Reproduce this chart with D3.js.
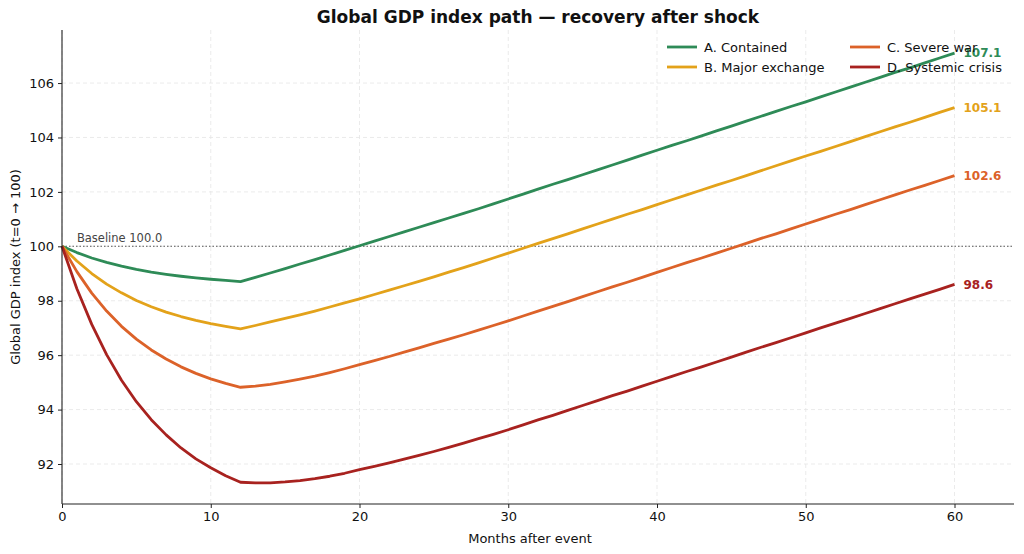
<!DOCTYPE html>
<html><head><meta charset="utf-8">
<script src="https://cdn.jsdelivr.net/npm/d3@7"></script>
<style>
body{margin:0;background:#fff;}
svg{display:block;font-family:"DejaVu Sans",sans-serif;}
</style></head>
<body><svg id="c" width="1024" height="554"></svg>
<script>
const months = d3.range(0, 61);
const seriesNames = ["A. Contained", "B. Major exchange", "C. Severe war", "D. Systemic crisis"];
const seriesColors = ["#2e8b57", "#e3a21a", "#dc6229", "#a8221f"];
const contained = [100,99.77,99.57,99.41,99.27,99.15,99.05,98.97,98.90,98.84,98.79,98.75,98.70,
 98.86,99.02,99.18,99.35,99.51,99.68,99.85,100.02,100.19,100.36,100.53,100.70,100.87,101.04,101.21,101.38,101.56,101.74,
 101.92,102.10,102.28,102.45,102.63,102.81,102.99,103.17,103.35,103.53,103.71,103.88,104.06,104.24,104.42,104.60,104.78,104.96,105.14,105.31,
 105.49,105.67,105.85,106.03,106.21,106.39,106.56,106.74,106.92,107.10];
const majorExchange = [100,99.46,99.00,98.61,98.29,98.01,97.78,97.58,97.42,97.28,97.16,97.06,96.97,
 97.09,97.22,97.35,97.48,97.62,97.77,97.92,98.07,98.23,98.39,98.55,98.71,98.88,99.05,99.22,99.39,99.57,99.75,
 99.93,100.11,100.28,100.46,100.64,100.82,101.00,101.18,101.35,101.53,101.71,101.89,102.07,102.25,102.42,102.60,102.78,102.96,103.14,103.32,
 103.49,103.67,103.85,104.03,104.21,104.39,104.56,104.74,104.92,105.10];
const severeWar = [100,99.07,98.28,97.62,97.06,96.59,96.19,95.86,95.57,95.33,95.13,94.96,94.82,
 94.86,94.93,95.02,95.12,95.23,95.36,95.50,95.65,95.80,95.95,96.11,96.27,96.43,96.59,96.75,96.92,97.09,97.26,
 97.44,97.62,97.79,97.97,98.15,98.33,98.51,98.68,98.86,99.04,99.22,99.40,99.57,99.75,99.93,100.11,100.29,100.46,100.64,100.82,
 101.00,101.18,101.35,101.53,101.71,101.89,102.07,102.24,102.42,102.60];
const systemicCrisis = [100,98.44,97.13,96.02,95.08,94.29,93.63,93.07,92.59,92.19,91.86,91.57,91.33,
 91.31,91.31,91.34,91.39,91.46,91.55,91.66,91.79,91.91,92.04,92.18,92.32,92.46,92.61,92.77,92.93,93.09,93.26,
 93.44,93.62,93.79,93.97,94.15,94.33,94.51,94.68,94.86,95.04,95.22,95.40,95.57,95.75,95.93,96.11,96.29,96.46,96.64,96.82,
 97.00,97.18,97.35,97.53,97.71,97.89,98.07,98.24,98.42,98.60];
const xTicks = [0, 10, 20, 30, 40, 50, 60];
const yTicks = [92, 94, 96, 98, 100, 102, 104, 106];
const baselineValue = 100;

const allSeries = [contained, majorExchange, severeWar, systemicCrisis];
const svg = d3.select("#c");
const L = 62, R = 1014, T = 30, B = 504;
const x = d3.scaleLinear().domain([0, 64]).range([L, R]);
const y = d3.scaleLinear().domain([90.53, 107.95]).range([B, T]);

// grid
const g = svg.append("g");
g.selectAll(".gx").data(xTicks).join("line")
  .attr("x1", d => x(d)).attr("x2", d => x(d)).attr("y1", T).attr("y2", B)
  .attr("stroke", "#e6e6e6").attr("stroke-width", 0.8).attr("stroke-dasharray", "4,3");
g.selectAll(".gy").data(yTicks).join("line")
  .attr("x1", L).attr("x2", R).attr("y1", d => y(d)).attr("y2", d => y(d))
  .attr("stroke", "#e6e6e6").attr("stroke-width", 0.8).attr("stroke-dasharray", "4,3");

// baseline
svg.append("line").attr("x1", L).attr("x2", R).attr("y1", y(baselineValue)).attr("y2", y(baselineValue))
  .attr("stroke", "#555").attr("stroke-width", 1.1).attr("stroke-dasharray", "1.5,2");
svg.append("text").attr("x", x(1)).attr("y", y(baselineValue) - 4)
  .attr("font-size", 11.5).attr("fill", "#444").text("Baseline " + baselineValue.toFixed(1));

// lines
const line = d3.line().x((d, i) => x(months[i])).y(d => y(d));
allSeries.forEach((s, i) => {
  svg.append("path").datum(s).attr("d", line).attr("fill", "none")
    .attr("stroke", seriesColors[i]).attr("stroke-width", 2.8).attr("stroke-linejoin", "round");
});

// end labels
allSeries.forEach((s, i) => {
  svg.append("text").attr("x", x(60) + 9).attr("y", y(s[60])).attr("dy", "0.35em")
    .attr("font-size", 12).attr("font-weight", "bold").attr("fill", seriesColors[i])
    .text(s[60].toFixed(1));
});

// axes
const xAxis = svg.append("g").attr("transform", `translate(0,${B})`)
  .call(d3.axisBottom(x).tickValues(xTicks).tickSize(4).tickPadding(4));
const yAxis = svg.append("g").attr("transform", `translate(${L},0)`)
  .call(d3.axisLeft(y).tickValues(yTicks).tickSize(4).tickPadding(4));
[xAxis, yAxis].forEach(a => {
  a.selectAll("text").attr("font-size", 13).attr("fill", "#111").attr("font-family", "DejaVu Sans, sans-serif");
  a.select(".domain").attr("stroke", "#222").attr("stroke-width", 1.1);
  a.selectAll(".tick line").attr("stroke", "#222");
});
xAxis.select(".domain").attr("d", `M${L},0H${R}`);
yAxis.select(".domain").attr("d", `M0,${T}V${B}`);

svg.append("text").attr("x", (L + R) / 2 - 8).attr("y", 543).attr("text-anchor", "middle")
  .attr("font-size", 13).attr("fill", "#111").text("Months after event");
svg.append("text").attr("transform", `translate(20,${(T + B) / 2}) rotate(-90)`).attr("text-anchor", "middle")
  .attr("font-size", 13).attr("fill", "#111").text("Global GDP index (t=0 → 100)");

svg.append("text").attr("x", 538).attr("y", 23).attr("text-anchor", "middle")
  .attr("font-size", 17).attr("font-weight", "bold").attr("fill", "#111")
  .text("Global GDP index path — recovery after shock");

// legend
const legPos = [[667, 47], [667, 67], [850, 47], [850, 67]];
seriesNames.forEach((n, i) => {
  const [lx, ly] = legPos[i];
  svg.append("line").attr("x1", lx).attr("x2", lx + 30).attr("y1", ly).attr("y2", ly)
    .attr("stroke", seriesColors[i]).attr("stroke-width", 2.8);
  svg.append("text").attr("x", lx + 37).attr("y", ly).attr("dy", "0.35em")
    .attr("font-size", 13).attr("fill", "#111").text(n);
});
</script></body></html>
